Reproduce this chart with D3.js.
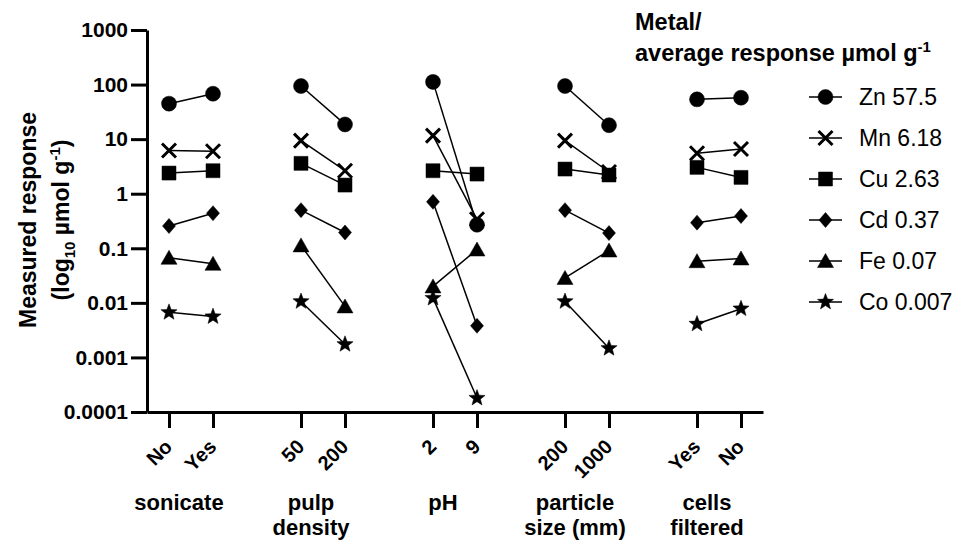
<!DOCTYPE html>
<html>
<head>
<meta charset="utf-8">
<script src="https://cdn.jsdelivr.net/npm/d3@7"></script>
<style>
body { margin: 0; background: #fff; }
svg { font-family: "Liberation Sans", Arial, sans-serif; }
</style>
</head>
<body>
<div id="chart"></div>
<script>
// conditions along the x axis, two per factor group
var groups = [["sonicate"], ["pulp", "density"], ["pH"], ["particle", "size (mm)"], ["cells", "filtered"]];
var conditions = ["No", "Yes", "50", "200", "2", "9", "200", "1000", "Yes", "No"];
var tickLabels = ["0.0001", "0.001", "0.01", "0.1", "1", "10", "100", "1000"];

var metals = ["Zn", "Mn", "Cu", "Cd", "Fe", "Co"];
var averages = ["57.5", "6.18", "2.63", "0.37", "0.07", "0.007"];
var shapes = ["circle", "x", "square", "diamond", "triangle", "star"];

var zn = [44.7, 68, 94, 18.6, 112, 0.27, 94, 18, 53.6, 57.5];
var mn = [6.2, 6.0, 9.4, 2.64, 11.6, 0.34, 9.4, 2.5, 5.5, 6.6];
var cu = [2.39, 2.64, 3.6, 1.44, 2.64, 2.29, 2.83, 2.2, 3.04, 1.99];
var cd = [0.256, 0.44, 0.50, 0.195, 0.71, 0.0038, 0.50, 0.19, 0.295, 0.39];
var fe = [0.067, 0.052, 0.113, 0.0086, 0.020, 0.095, 0.0286, 0.091, 0.058, 0.065];
var co = [0.0067, 0.0056, 0.0106, 0.00174, 0.0122, 0.00018, 0.0106, 0.00147, 0.0041, 0.0078];
var seriesValues = [zn, mn, cu, cd, fe, co];

var width = 956, height = 542;

var svg = d3.select("#chart").append("svg")
    .attr("width", width)
    .attr("height", height);

// slot of each condition: two per group, one empty slot between groups
function slot(i) { return Math.floor(i / 2) * 3 + (i % 2); }

var x = d3.scaleLinear().domain([-0.5, 13.5]).range([147, 763]);
var y = d3.scaleLog().domain([1e-4, 1e3]).range([412, 30]);

function markerPath(shape) {
    var p = d3.path();
    if (shape === "circle") {
        p.moveTo(7.5, 0); p.arc(0, 0, 7.5, 0, 2 * Math.PI);
    } else if (shape === "x") {
        p.moveTo(-7, -7); p.lineTo(7, 7); p.moveTo(7, -7); p.lineTo(-7, 7);
    } else if (shape === "square") {
        p.rect(-7, -7, 14, 14);
    } else if (shape === "diamond") {
        p.moveTo(0, -7.5); p.lineTo(6.5, 0); p.lineTo(0, 7.5); p.lineTo(-6.5, 0); p.closePath();
    } else if (shape === "triangle") {
        p.moveTo(0, -7.5); p.lineTo(8, 6.5); p.lineTo(-8, 6.5); p.closePath();
    } else {
        for (var k = 0; k < 10; k++) {
            var r = k % 2 === 0 ? 8.5 : 3.6;
            var a = -Math.PI / 2 + k * Math.PI / 5;
            if (k === 0) p.moveTo(r * Math.cos(a), r * Math.sin(a));
            else p.lineTo(r * Math.cos(a), r * Math.sin(a));
        }
        p.closePath();
    }
    return p.toString();
}

function styleMarker(sel, shape) {
    sel.attr("d", markerPath(shape))
        .attr("fill", shape === "x" ? "none" : "#000")
        .attr("stroke", "#000")
        .attr("stroke-width", shape === "x" ? 3 : 0.5);
}

// axes
var yAxis = svg.append("g")
    .attr("transform", "translate(147,0)")
    .call(d3.axisLeft(y)
        .tickValues(tickLabels.map(Number))
        .tickFormat(function(d, i) { return tickLabels[i]; })
        .tickSize(16)
        .tickSizeOuter(0)
        .tickPadding(3));

var xAxis = svg.append("g")
    .attr("transform", "translate(0,412)")
    .call(d3.axisBottom(x)
        .tickValues(conditions.map(function(d, i) { return slot(i); }))
        .tickFormat(function(d, i) { return conditions[i]; })
        .tickSize(16)
        .tickSizeOuter(0));

[yAxis, xAxis].forEach(function(ax) {
    ax.select(".domain").attr("stroke", "#000").attr("stroke-width", 3);
    ax.selectAll(".tick line").attr("stroke", "#000").attr("stroke-width", 3);
    ax.selectAll("text")
        .attr("fill", "#000")
        .style("font-size", "20px")
        .style("font-weight", "bold");
});
yAxis.selectAll("text").style("font-size", "21px");

xAxis.selectAll("text")
    .attr("x", 0).attr("y", 0).attr("dy", 0)
    .attr("text-anchor", "end")
    .attr("transform", "translate(4,36) rotate(-45)");

// group labels under the axis
groups.forEach(function(lines, g) {
    var t = svg.append("text")
        .attr("text-anchor", "middle")
        .style("font-size", "22px")
        .style("font-weight", "bold");
    lines.forEach(function(line, k) {
        t.append("tspan")
            .attr("x", x(g * 3 + 0.5) - 12)
            .attr("y", 510 + k * 25)
            .text(line);
    });
});

// y axis title
var yTitle = svg.append("g").attr("transform", "translate(36,220) rotate(-90)");
yTitle.append("text")
    .attr("text-anchor", "middle")
    .style("font-size", "23px").style("font-weight", "bold")
    .text("Measured response");
var yt2 = yTitle.append("text")
    .attr("text-anchor", "middle")
    .attr("y", 33)
    .style("font-size", "23px").style("font-weight", "bold");
yt2.append("tspan").text("(log");
yt2.append("tspan").attr("dy", 6).style("font-size", "15px").text("10");
yt2.append("tspan").attr("dy", -6).text(" µmol g");
yt2.append("tspan").attr("dy", -9).style("font-size", "15px").text("-1");
yt2.append("tspan").attr("dy", 9).text(")");

// connecting lines and markers
seriesValues.forEach(function(vals, s) {
    var layer = svg.append("g").attr("class", "series-" + metals[s]);
    groups.forEach(function(lines, g) {
        layer.append("line")
            .attr("x1", x(slot(g * 2)))
            .attr("y1", y(vals[g * 2]))
            .attr("x2", x(slot(g * 2 + 1)))
            .attr("y2", y(vals[g * 2 + 1]))
            .attr("stroke", "#000")
            .attr("stroke-width", 1.5);
    });
    layer.selectAll("path")
        .data(vals)
        .enter().append("path")
        .attr("transform", function(d, i) { return "translate(" + x(slot(i)) + "," + y(d) + ")"; })
        .call(styleMarker, shapes[s]);
});

// legend
var legend = svg.append("g");
legend.append("text")
    .attr("x", 635).attr("y", 30)
    .style("font-size", "23.5px").style("font-weight", "bold")
    .text("Metal/");
var lt = legend.append("text")
    .attr("x", 635).attr("y", 61)
    .style("font-size", "23.5px").style("font-weight", "bold");
lt.append("tspan").text("average response µmol g");
lt.append("tspan").attr("dy", -9).style("font-size", "15px").text("-1");

var rows = legend.selectAll(".row")
    .data(metals)
    .enter().append("g")
    .attr("class", "row")
    .attr("transform", function(d, i) { return "translate(0," + (97 + i * 41) + ")"; });

rows.append("line")
    .attr("x1", 809).attr("x2", 842)
    .attr("stroke", "#000").attr("stroke-width", 1.5);

rows.append("path")
    .each(function(d, i) {
        d3.select(this).attr("transform", "translate(825.5,0)").call(styleMarker, shapes[i]);
    });

rows.append("text")
    .attr("x", 859)
    .attr("dy", "0.36em")
    .style("font-size", "23px")
    .text(function(d, i) { return d + " " + averages[i]; });
</script>
</body>
</html>
